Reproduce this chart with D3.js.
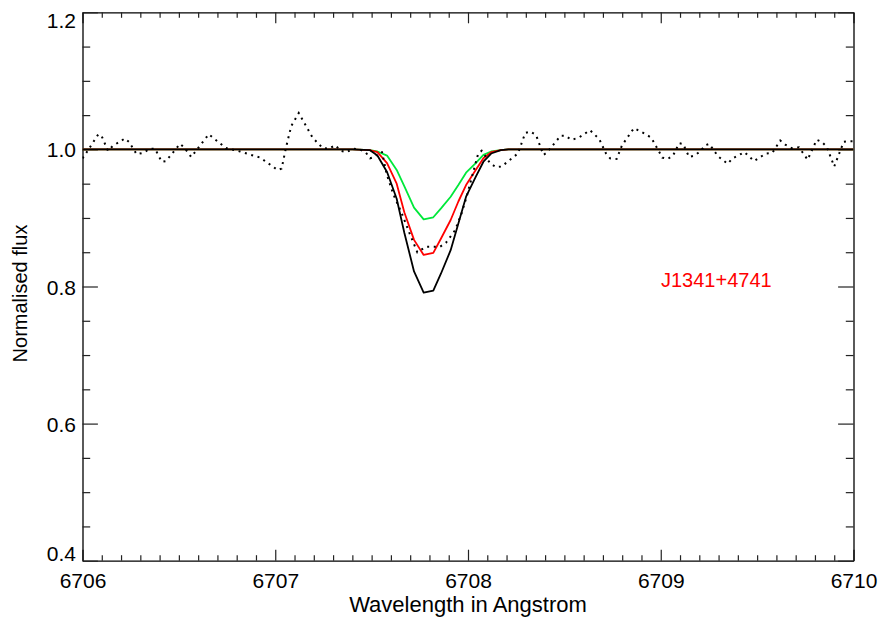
<!DOCTYPE html>
<html>
<head>
<meta charset="utf-8">
<script src="https://cdn.jsdelivr.net/npm/d3@7"></script>
<style>
  html, body { margin: 0; padding: 0; background: #ffffff; }
  svg text { font-family: "Liberation Sans", Arial, Helvetica, sans-serif; }
</style>
</head>
<body>
<div id="canvas"></div>
<script>
"use strict";

/* Li 6708 line: observed spectrum (dotted) with three model profiles */

// observed spectrum, wavelength in Angstrom and normalised flux
let obsWave = [
  6706.000, 6706.022, 6706.082, 6706.100, 6706.132, 6706.157, 6706.220, 6706.241,
  6706.281, 6706.315, 6706.350, 6706.376, 6706.411, 6706.433, 6706.506, 6706.527,
  6706.564, 6706.655, 6706.744, 6706.817, 6706.886, 6706.922, 6707.012, 6707.033,
  6707.056, 6707.083, 6707.122, 6707.194, 6707.246, 6707.277, 6707.312, 6707.340,
  6707.370, 6707.405, 6707.440, 6707.471, 6707.492, 6707.516, 6707.543, 6707.554,
  6707.578, 6707.612, 6707.656, 6707.699, 6707.737, 6707.782, 6707.855, 6707.886,
  6707.933, 6707.967, 6707.993, 6708.031, 6708.053, 6708.071, 6708.114, 6708.145,
  6708.174, 6708.232, 6708.259, 6708.297, 6708.322, 6708.353, 6708.391, 6708.408,
  6708.481, 6708.505, 6708.536, 6708.574, 6708.633, 6708.681, 6708.716, 6708.737,
  6708.771, 6708.799, 6708.861, 6708.923, 6708.951, 6708.991, 6709.008, 6709.036,
  6709.064, 6709.095, 6709.116, 6709.147, 6709.174, 6709.205, 6709.230, 6709.252,
  6709.297, 6709.347, 6709.373, 6709.434, 6709.461, 6709.484, 6709.545, 6709.579,
  6709.620, 6709.646, 6709.679, 6709.717, 6709.762, 6709.809, 6709.835, 6709.861,
  6709.900, 6709.949, 6709.973, 6710.000
];
let obsFlux = [
  0.987, 0.996, 1.022, 1.019, 0.998, 1.005, 1.016, 1.011,
  0.993, 0.995, 1.001, 1.001, 0.982, 0.983, 1.008, 1.003,
  0.989, 1.022, 1.002, 0.997, 0.991, 0.988, 0.970, 0.972,
  1.003, 1.034, 1.053, 1.017, 1.002, 1.001, 1.006, 0.998,
  0.996, 1.001, 1.000, 0.995, 0.987, 0.989, 0.996, 0.996,
  0.964, 0.935, 0.907, 0.876, 0.850, 0.858, 0.858, 0.864,
  0.882, 0.907, 0.931, 0.971, 0.994, 0.998, 0.980, 0.974,
  0.975, 0.988, 0.994, 1.024, 1.026, 1.021, 0.992, 0.995,
  1.020, 1.020, 1.014, 1.017, 1.028, 1.015, 0.994, 0.987,
  0.986, 1.006, 1.031, 1.022, 1.017, 0.997, 0.988, 0.986,
  0.991, 1.009, 1.008, 0.989, 0.991, 0.997, 1.006, 1.008,
  0.990, 0.979, 0.987, 0.996, 0.989, 0.983, 0.994, 0.995,
  1.013, 1.007, 1.002, 1.003, 0.985, 1.014, 1.011, 1.004,
  0.975, 1.011, 1.012, 1.012
];

// model grid and three synthetic profiles
let modelWave = [
  6706.00, 6707.40, 6707.49, 6707.53, 6707.58, 6707.63, 6707.67, 6707.72, 6707.77,
  6707.82, 6707.86, 6707.91, 6707.95, 6707.99, 6708.04, 6708.08, 6708.12,
  6708.17, 6708.21, 6708.30, 6710.00
];
let modelBlack = [
  1.000, 1.000, 0.999, 0.991, 0.967, 0.928, 0.878, 0.822, 0.791,
  0.794, 0.819, 0.853, 0.892, 0.931, 0.960, 0.982, 0.994,
  0.999, 1.000, 1.000, 1.000
];
let modelRed = [
  1.000, 1.000, 0.999, 0.996, 0.980, 0.950, 0.908, 0.868, 0.846,
  0.849, 0.870, 0.897, 0.924, 0.948, 0.970, 0.987, 0.996,
  0.999, 1.000, 1.000, 1.000
];
let modelGreen = [
  1.000, 1.000, 0.999, 0.997, 0.991, 0.970, 0.946, 0.915, 0.898,
  0.901, 0.914, 0.931, 0.948, 0.966, 0.980, 0.992, 0.997,
  0.999, 1.000, 1.000, 1.000
];

// tick values
let xMajorTicks = [6706, 6707, 6708, 6709, 6710];
let yMajorTicks = [0.4, 0.6, 0.8, 1.0, 1.2];
let starLabel = "J1341+4741";

/* drawing configuration */
const svgWidth = 881;
const svgHeight = 618;
const plotLeft = 82.5, plotRight = 853.5, plotTop = 12.3, plotBottom = 560.7;

const svg = d3.select("#canvas")
  .append("svg")
  .attr("width", svgWidth)
  .attr("height", svgHeight);

const xScale = d3.scaleLinear().domain([6706, 6710]).range([plotLeft, plotRight]);
const yScale = d3.scaleLinear().domain([0.4, 1.2]).range([plotBottom, plotTop]);

// minor ticks: 0.1 A on x, 0.05 on y
const xMinorTicks = d3.range(6706, 6710.0001, 0.1).map(v => +v.toFixed(2))
  .filter(v => !xMajorTicks.includes(v));
const yMinorTicks = d3.range(0.4, 1.2001, 0.05).map(v => +v.toFixed(2))
  .filter(v => !yMajorTicks.includes(v));

const fontSize = 21;
const xTickLen = 11, yTickLen = 15.4;

function styleAxis(sel) {
  sel.select(".domain").attr("stroke", "#000").attr("stroke-width", 1.3);
  sel.selectAll(".tick line").attr("stroke", "#222").attr("stroke-width", 1.2);
  sel.selectAll("text")
    .attr("fill", "#000")
    .attr("font-size", fontSize + "px")
    .attr("font-family", "'Liberation Sans', Arial, sans-serif");
}

// bottom axis
svg.append("g")
  .attr("transform", `translate(0,${plotBottom})`)
  .call(d3.axisBottom(xScale).tickValues(xMajorTicks)
    .tickSizeInner(-xTickLen).tickSizeOuter(0).tickPadding(12.5)
    .tickFormat(d3.format("d")))
  .call(styleAxis);
svg.append("g")
  .attr("transform", `translate(0,${plotBottom})`)
  .call(d3.axisBottom(xScale).tickValues(xMinorTicks)
    .tickSizeInner(-xTickLen / 2).tickSizeOuter(0).tickFormat(""))
  .call(styleAxis)
  .select(".domain").remove();

// top axis (mirror, no labels)
svg.append("g")
  .attr("transform", `translate(0,${plotTop})`)
  .call(d3.axisTop(xScale).tickValues(xMajorTicks)
    .tickSizeInner(-xTickLen).tickSizeOuter(0).tickFormat(""))
  .call(styleAxis);
svg.append("g")
  .attr("transform", `translate(0,${plotTop})`)
  .call(d3.axisTop(xScale).tickValues(xMinorTicks)
    .tickSizeInner(-xTickLen / 2).tickSizeOuter(0).tickFormat(""))
  .call(styleAxis)
  .select(".domain").remove();

// left axis
const left = svg.append("g")
  .attr("transform", `translate(${plotLeft},0)`)
  .call(d3.axisLeft(yScale).tickValues(yMajorTicks)
    .tickSizeInner(-yTickLen).tickSizeOuter(0).tickPadding(6.5)
    .tickFormat(d3.format(".1f")))
  .call(styleAxis);
// IDL pushes the end labels inside the axis range
left.selectAll(".tick text")
  .attr("dy", d => d === 1.2 ? "0.72em" : (d === 0.4 ? "0em" : "0.36em"));
svg.append("g")
  .attr("transform", `translate(${plotLeft},0)`)
  .call(d3.axisLeft(yScale).tickValues(yMinorTicks)
    .tickSizeInner(-yTickLen / 2).tickSizeOuter(0).tickFormat(""))
  .call(styleAxis)
  .select(".domain").remove();

// right axis (mirror)
svg.append("g")
  .attr("transform", `translate(${plotRight},0)`)
  .call(d3.axisRight(yScale).tickValues(yMajorTicks)
    .tickSizeInner(-yTickLen).tickSizeOuter(0).tickFormat(""))
  .call(styleAxis);
svg.append("g")
  .attr("transform", `translate(${plotRight},0)`)
  .call(d3.axisRight(yScale).tickValues(yMinorTicks)
    .tickSizeInner(-yTickLen / 2).tickSizeOuter(0).tickFormat(""))
  .call(styleAxis)
  .select(".domain").remove();

// clip to plot box
svg.append("clipPath").attr("id", "plotClip")
  .append("rect")
  .attr("x", plotLeft).attr("y", plotTop)
  .attr("width", plotRight - plotLeft).attr("height", plotBottom - plotTop);

const plot = svg.append("g").attr("clip-path", "url(#plotClip)");

const line = d3.line()
  .x(d => xScale(d[0]))
  .y(d => yScale(d[1]));

// model profiles
const models = [
  { values: modelGreen, color: "#00e83a" },
  { values: modelRed, color: "#ff0000" },
  { values: modelBlack, color: "#000000" }
];
models.forEach(m => {
  plot.append("path")
    .datum(modelWave.map((w, i) => [w, m.values[i]]))
    .attr("fill", "none")
    .attr("stroke", m.color)
    .attr("stroke-width", 1.8)
    .attr("stroke-linejoin", "round")
    .attr("d", line);
});

// observed spectrum, dotted
plot.append("path")
  .datum(obsWave.map((w, i) => [w, obsFlux[i]]))
  .attr("fill", "none")
  .attr("stroke", "#000")
  .attr("stroke-width", 2)
  .attr("stroke-dasharray", "2,4.6")
  .attr("d", line);

// star name
svg.append("text")
  .attr("x", 661)
  .attr("y", 287)
  .attr("fill", "#ff0000")
  .attr("font-size", "20px")
  .text(starLabel);

// axis titles
svg.append("text")
  .attr("x", (plotLeft + plotRight) / 2)
  .attr("y", 612)
  .attr("text-anchor", "middle")
  .attr("font-size", "22px")
  .text("Wavelength in Angstrom");

svg.append("text")
  .attr("transform", "rotate(-90)")
  .attr("x", -(plotTop + plotBottom) / 2 - 7)
  .attr("y", 27)
  .attr("text-anchor", "middle")
  .attr("font-size", "20px")
  .text("Normalised flux");
</script>
</body>
</html>
